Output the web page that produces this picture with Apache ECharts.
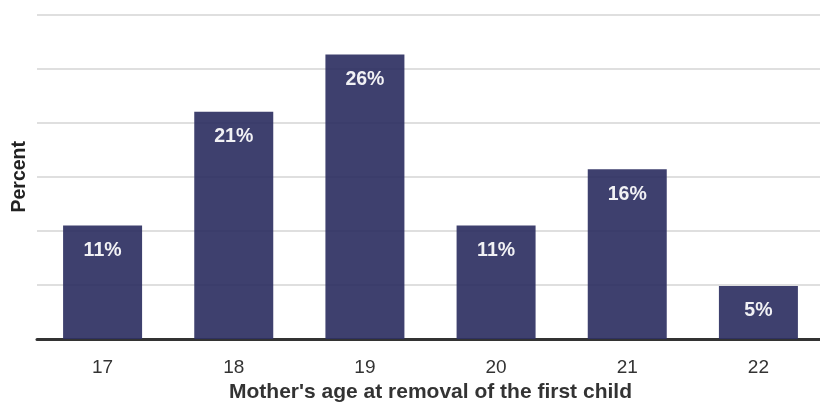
<!DOCTYPE html>
<html>
<head>
<meta charset="utf-8">
<script src="https://cdn.jsdelivr.net/npm/echarts@6/dist/echarts.min.js"></script>
<style>
html,body{margin:0;padding:0;background:#fff;}
#chart{width:820px;height:405px;}
</style>
</head>
<body>
<div id="chart"></div>
<script>
const categories = ['17', '18', '19', '20', '21', '22'];
const percentValues = [10.5, 21.0, 26.3, 10.5, 15.7, 4.9];
const xAxisTitle = "Mother's age at removal of the first child";
const yAxisTitle = 'Percent';

const chart = echarts.init(document.getElementById('chart'));
chart.setOption({
  animation: false,
  textStyle: { fontFamily: 'Liberation Sans, Arial, sans-serif' },
  grid: { left: 37, width: 787, top: 14.5, height: 324.5, containLabel: false, outerBoundsMode: 'none' },
  xAxis: {
    type: 'category',
    data: categories,
    name: xAxisTitle,
    nameLocation: 'middle',
    nameGap: 43,
    nameTextStyle: { fontSize: 21, fontWeight: 'bold', color: '#333' },
    axisLine: { lineStyle: { color: '#333', width: 3 } },
    axisTick: { show: false },
    axisLabel: { fontSize: 19, color: '#333', margin: 19 }
  },
  yAxis: {
    type: 'value',
    min: 0,
    max: 30,
    interval: 5,
    name: yAxisTitle,
    nameLocation: 'middle',
    nameGap: 7,
    nameTextStyle: { fontSize: 19.5, fontWeight: 'bold', color: '#222' },
    axisLabel: { show: false },
    axisLine: { show: false },
    axisTick: { show: false },
    splitLine: { lineStyle: { color: '#d4d4d4', width: 1.5 } }
  },
  series: [{
    type: 'bar',
    data: percentValues,
    barWidth: 79,
    itemStyle: { color: '#2f3163', opacity: 0.93 },
    label: {
      show: true,
      position: 'insideTop',
      distance: 15,
      color: '#fff',
      fontSize: 19.5,
      fontWeight: 'bold',
      formatter: p => Math.round(p.value) + '%'
    }
  }]
});
</script>
</body>
</html>
